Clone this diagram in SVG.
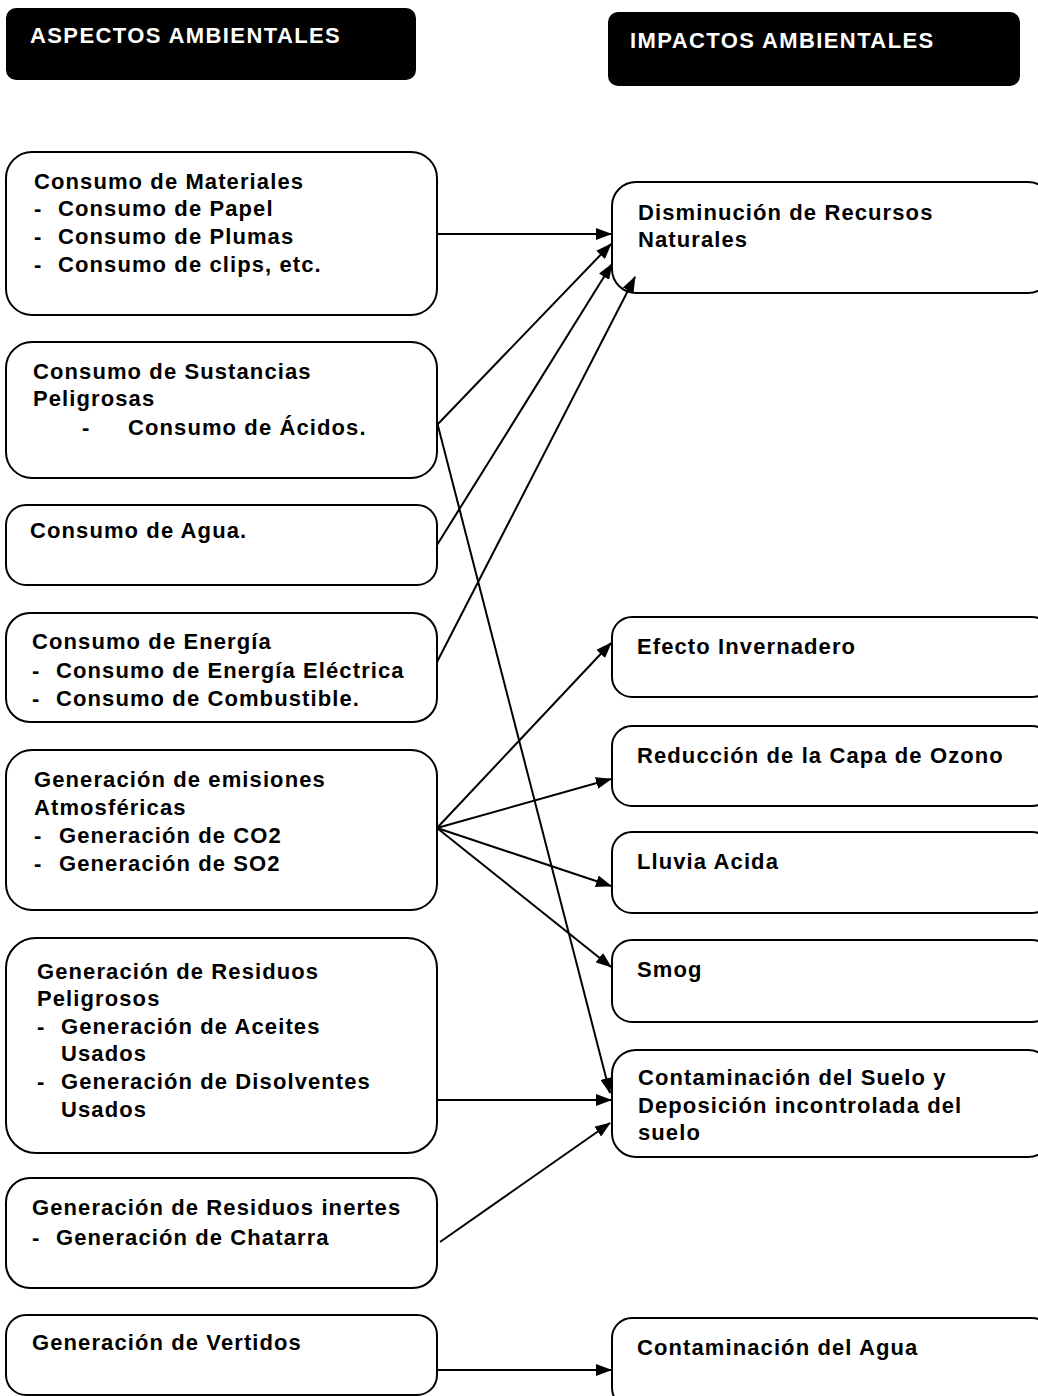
<svg xmlns="http://www.w3.org/2000/svg" width="1038" height="1396" viewBox="0 0 1038 1396">
<style>
.box{fill:#fff;stroke:#000;stroke-width:2}
.hdr{fill:#000}
.t{font-family:"Liberation Sans",Arial,sans-serif;font-weight:bold;font-size:22px;letter-spacing:1.1px;fill:#000}
.h{font-family:"Liberation Sans",Arial,sans-serif;font-weight:bold;font-size:22px;letter-spacing:1.4px;fill:#fff}
.c{stroke:#000;stroke-width:2;fill:none;marker-end:url(#ah)}
</style>
<defs>
<marker id="ah" viewBox="0 0 16 12" refX="15" refY="6" markerWidth="16" markerHeight="12" markerUnits="userSpaceOnUse" orient="auto">
<path d="M0,0 L16,6 L0,12 Z" fill="#000"/>
</marker>
</defs>
<rect width="1038" height="1396" fill="#fff"/>
<g id="hdr-aspectos"><rect class="hdr" x="6" y="8" width="410" height="72" rx="10"/><text class="h" x="30" y="43">ASPECTOS AMBIENTALES</text></g>
<g id="hdr-impactos"><rect class="hdr" x="608" y="12" width="412" height="74" rx="10"/><text class="h" x="630" y="48">IMPACTOS AMBIENTALES</text></g>

<g id="a1"><rect class="box" x="6" y="152" width="431" height="163" rx="26"/>
<text class="t" x="34" y="189">Consumo de Materiales</text>
<text class="t" x="34" y="216">-</text><text class="t" x="58" y="216">Consumo de Papel</text>
<text class="t" x="34" y="244">-</text><text class="t" x="58" y="244">Consumo de Plumas</text>
<text class="t" x="34" y="272">-</text><text class="t" x="58" y="272">Consumo de clips, etc.</text></g>

<g id="a2"><rect class="box" x="6" y="342" width="431" height="136" rx="26"/>
<text class="t" x="33" y="379">Consumo de Sustancias</text>
<text class="t" x="33" y="406">Peligrosas</text>
<text class="t" x="82" y="435">-</text><text class="t" x="128" y="435">Consumo de Ácidos.</text></g>

<g id="a3"><rect class="box" x="6" y="505" width="431" height="80" rx="20"/>
<text class="t" x="30" y="538">Consumo de Agua.</text></g>

<g id="a4"><rect class="box" x="6" y="613" width="431" height="109" rx="24"/>
<text class="t" x="32" y="649">Consumo de Energía</text>
<text class="t" x="32" y="678">-</text><text class="t" x="56" y="678">Consumo de Energía Eléctrica</text>
<text class="t" x="32" y="706">-</text><text class="t" x="56" y="706">Consumo de Combustible.</text></g>

<g id="a5"><rect class="box" x="6" y="750" width="431" height="160" rx="26"/>
<text class="t" x="34" y="787">Generación de emisiones</text>
<text class="t" x="34" y="815">Atmosféricas</text>
<text class="t" x="34" y="843">-</text><text class="t" x="59" y="843">Generación de CO2</text>
<text class="t" x="34" y="871">-</text><text class="t" x="59" y="871">Generación de SO2</text></g>

<g id="a6"><rect class="box" x="6" y="938" width="431" height="215" rx="30"/>
<text class="t" x="37" y="979">Generación de Residuos</text>
<text class="t" x="37" y="1006">Peligrosos</text>
<text class="t" x="37" y="1034">-</text><text class="t" x="61" y="1034">Generación de Aceites</text>
<text class="t" x="61" y="1061">Usados</text>
<text class="t" x="37" y="1089">-</text><text class="t" x="61" y="1089">Generación de Disolventes</text>
<text class="t" x="61" y="1117">Usados</text></g>

<g id="a7"><rect class="box" x="6" y="1178" width="431" height="110" rx="24"/>
<text class="t" x="32" y="1215">Generación de Residuos inertes</text>
<text class="t" x="32" y="1245">-</text><text class="t" x="56" y="1245">Generación de Chatarra</text></g>

<g id="a8"><rect class="box" x="6" y="1315" width="431" height="80" rx="20"/>
<text class="t" x="32" y="1350">Generación de Vertidos</text></g>

<g id="i1"><rect class="box" x="612" y="182" width="440" height="111" rx="24"/>
<text class="t" x="638" y="220">Disminución de Recursos</text>
<text class="t" x="638" y="247">Naturales</text></g>

<g id="i2"><rect class="box" x="612" y="617" width="440" height="80" rx="20"/>
<text class="t" x="637" y="654">Efecto Invernadero</text></g>

<g id="i3"><rect class="box" x="612" y="726" width="440" height="80" rx="20"/>
<text class="t" x="637" y="763">Reducción de la Capa de Ozono</text></g>

<g id="i4"><rect class="box" x="612" y="832" width="440" height="81" rx="20"/>
<text class="t" x="637" y="869">Lluvia Acida</text></g>

<g id="i5"><rect class="box" x="612" y="940" width="440" height="82" rx="20"/>
<text class="t" x="637" y="977">Smog</text></g>

<g id="i6"><rect class="box" x="612" y="1050" width="440" height="107" rx="24"/>
<text class="t" x="638" y="1085">Contaminación del Suelo y</text>
<text class="t" x="638" y="1113">Deposición incontrolada del</text>
<text class="t" x="638" y="1140">suelo</text></g>

<g id="i7"><rect class="box" x="612" y="1318" width="440" height="90" rx="20"/>
<text class="t" x="637" y="1355">Contaminación del Agua</text></g>

<g id="connectors">
<line class="c" x1="437" y1="234" x2="611" y2="234"/>
<line class="c" x1="437" y1="425" x2="611" y2="244"/>
<line class="c" x1="437" y1="545" x2="612" y2="264"/>
<line class="c" x1="437" y1="662" x2="635" y2="277"/>
<line class="c" x1="437" y1="422" x2="610" y2="1093"/>
<line class="c" x1="437" y1="828" x2="611" y2="643"/>
<line class="c" x1="437" y1="828" x2="611" y2="779"/>
<line class="c" x1="437" y1="828" x2="611" y2="886"/>
<line class="c" x1="437" y1="828" x2="611" y2="967"/>
<line class="c" x1="437" y1="1100" x2="611" y2="1100"/>
<line class="c" x1="440" y1="1242" x2="610" y2="1123"/>
<line class="c" x1="437" y1="1370" x2="611" y2="1370"/>
</g>
</svg>
